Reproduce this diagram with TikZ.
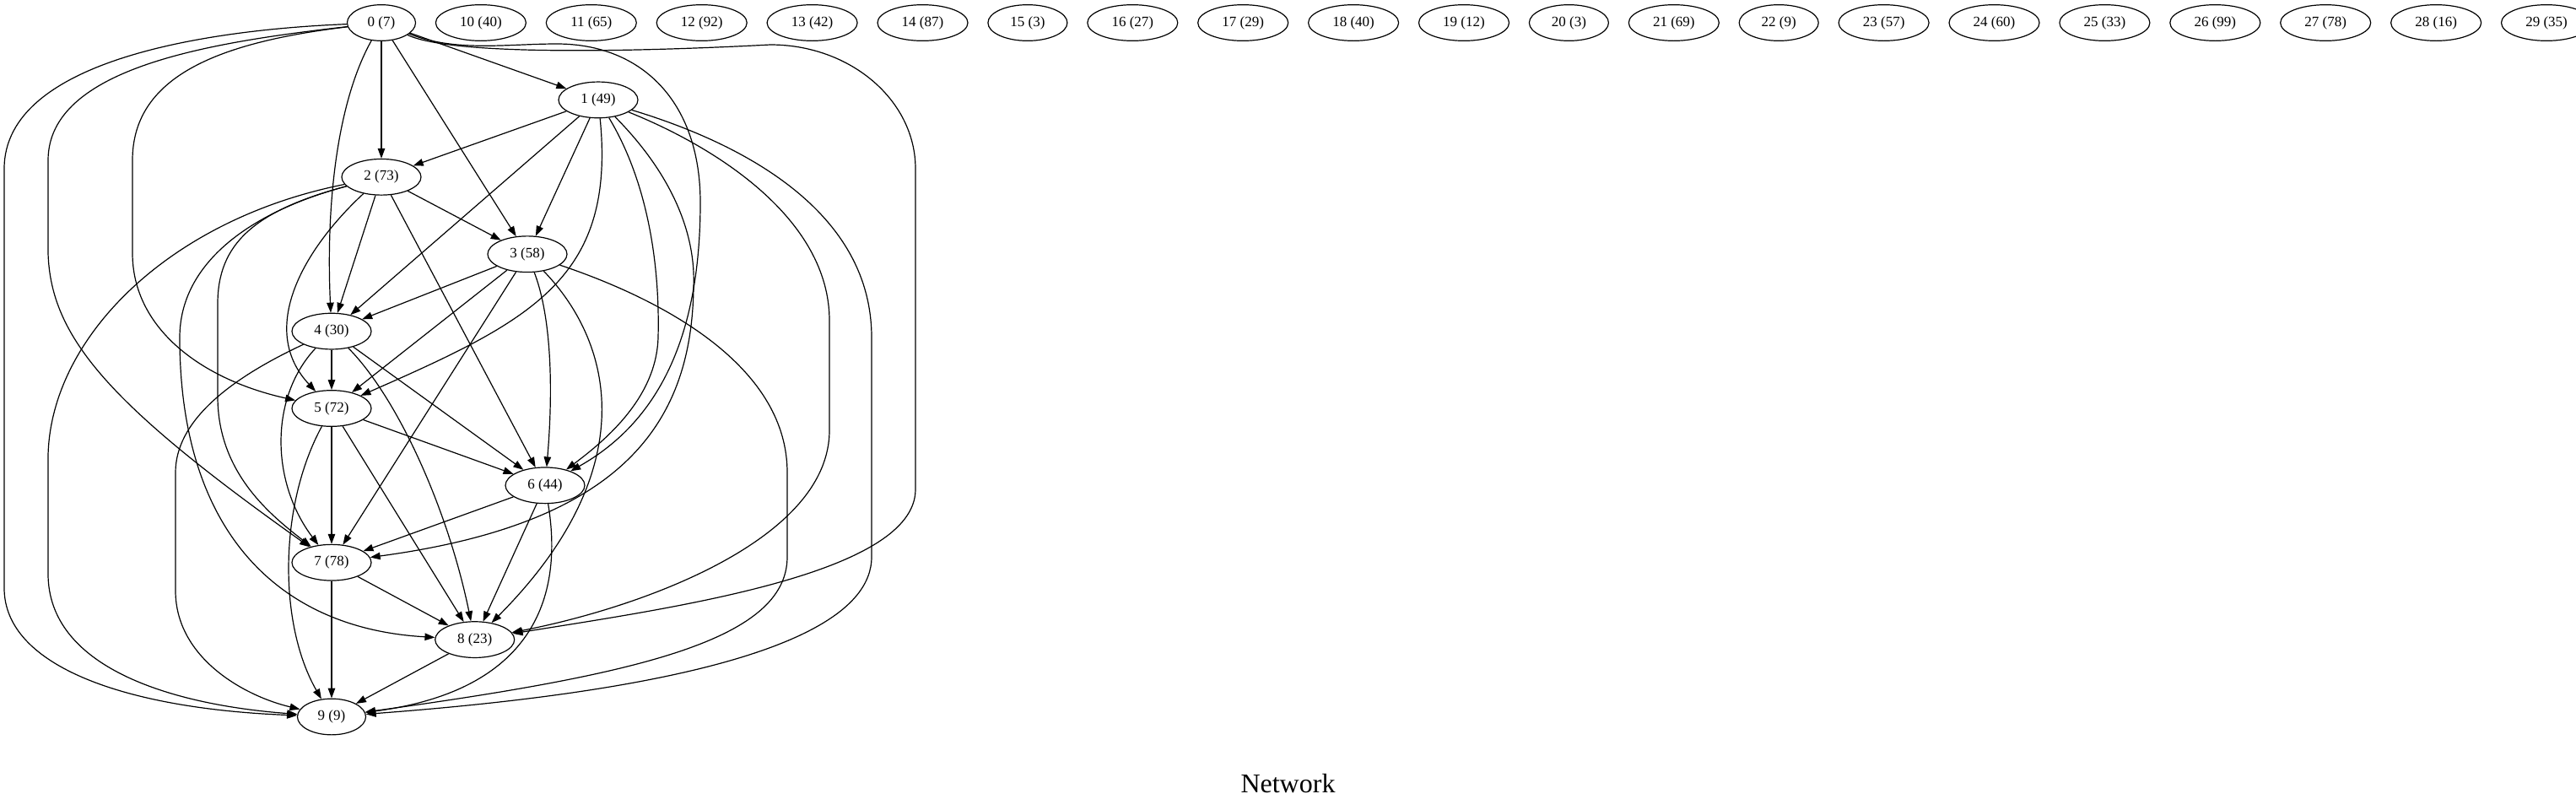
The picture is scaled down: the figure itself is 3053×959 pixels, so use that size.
\documentclass[tikz,border=0pt]{standalone}
\usepackage{fontspec}
\setmainfont{Liberation Serif}
\usetikzlibrary{arrows.meta,positioning,shapes.geometric}

\begin{document}
\begin{tikzpicture}[x=1pt, y=-1pt,
    vertex/.style={ellipse, draw, line width=1.2pt, inner sep=1pt,
      minimum height=42.7pt, minimum width=#1, font=\fontsize{17}{20}\selectfont},
    vertex/.default=94pt,
    link/.style={line width=1.2pt, -{Triangle[length=12pt, width=8.5pt]}}]
\useasboundingbox (0,0) rectangle (3053,959);

\node[vertex=81pt] (n0) at (452, 27) {0 (7)};
\node[vertex] (n1) at (709, 118.4) {1 (49)};
\node[vertex] (n2) at (452, 209.8) {2 (73)};
\node[vertex] (n3) at (625, 301.2) {3 (58)};
\node[vertex] (n4) at (393, 392.6) {4 (30)};
\node[vertex] (n5) at (393, 484) {5 (72)};
\node[vertex] (n6) at (646, 575.3) {6 (44)};
\node[vertex] (n7) at (393, 666.7) {7 (78)};
\node[vertex] (n8) at (562.7, 758.1) {8 (23)};
\node[vertex=81pt] (n9) at (393, 849.5) {9 (9)};

% the unconnected ones, in a row beside 0
\foreach \i/\v/\w [remember=\i as \prev (initially 0)] in {10/40/107pt, 11/65/107pt,
    12/92/107pt, 13/42/107pt, 14/87/107pt, 15/3/94pt, 16/27/107pt, 17/29/107pt,
    18/40/107pt, 19/12/107pt, 20/3/94pt, 21/69/107pt, 22/9/94pt, 23/57/107pt,
    24/60/107pt, 25/33/107pt, 26/99/107pt, 27/78/107pt, 28/16/107pt, 29/35/107pt}
  \node[vertex=\w, right=22.7pt of n\prev] (n\i) {\i\ (\v)};

\node[font=\fontsize{32}{38}\selectfont, anchor=base] (title) at (1526.5, 939.3) {Network};

% straight edges
\foreach \a/\b in {0/1, 0/2, 0/3, 1/2, 1/3, 1/4, 2/3, 2/4, 2/6, 3/4, 3/5, 3/7,
    4/5, 4/6, 5/6, 5/7, 5/8, 6/7, 6/8, 7/8, 7/9, 8/9}
  \draw[link] (n\a) -- (n\b);

% curved edges from 0
\draw[link] (n0) .. controls (400,120) and (386,240) .. (n4);
\draw[link] (n0) .. controls (260,50) and (157,90) .. (157,190) -- (157,300)
  .. controls (157,390) and (240,450) .. (n5);
\draw[link] (n0) .. controls (540,62) and (600,52) .. (660,52)
  .. controls (760,52) and (830,120) .. (830,240)
  .. controls (830,400) and (780,500) .. (n6);
\draw[link] (n0) .. controls (250,50) and (57,80) .. (57,190) -- (57,300)
  .. controls (60,400) and (130,480) .. (n7);
\draw[link] (n0) .. controls (540,68) and (780,60) .. (913,53)
  .. controls (1008,53) and (1085,119) .. (1085,200) -- (1085,580)
  .. controls (1085,680) and (800,720) .. (n8);
\draw[link] (n0) .. controls (250,35) and (5,70) .. (5,200) -- (5,697)
  .. controls (5,790) and (150,840) .. (n9);

% from 1
\draw[link] (n1) .. controls (730,330) and (630,380) .. (n5);
\draw[link] (n1) .. controls (770,220) and (782,320) .. (780,400)
  .. controls (778,470) and (720,520) .. (n6);
\draw[link] (n1) .. controls (790,200) and (825,270) .. (822,340)
  .. controls (820,500) and (740,620) .. (n7);
\draw[link] (n1) .. controls (850,175) and (983,260) .. (983,380) -- (983,510)
  .. controls (983,640) and (760,720) .. (n8);
\draw[link] (n1) .. controls (880,170) and (1033,250) .. (1033,400) -- (1033,660)
  .. controls (1033,790) and (650,830) .. (n9);

% from 2
\draw[link] (n2) .. controls (360,295) and (305,390) .. (n5);
\draw[link] (n2) .. controls (300,250) and (258,290) .. (258,360) -- (258,470)
  .. controls (258,560) and (320,610) .. (n7);
\draw[link] (n2) .. controls (300,250) and (213,310) .. (213,400)
  .. controls (213,630) and (330,745) .. (n8);
\draw[link] (n2) .. controls (200,260) and (60,400) .. (57,540) -- (57,680)
  .. controls (57,790) and (200,835) .. (n9);

% from 3
\draw[link] (n3) .. controls (655,380) and (655,470) .. (n6);
\draw[link] (n3) .. controls (730,410) and (760,560) .. (n8);
\draw[link] (n3) .. controls (800,360) and (933,440) .. (933,560) -- (933,660)
  .. controls (933,760) and (750,800) .. (n9);

% from 4, 5, 6
\draw[link] (n4) .. controls (320,470) and (320,570) .. (n7);
\draw[link] (n4) .. controls (470,470) and (530,600) .. (n8);
\draw[link] (n4) .. controls (270,450) and (208,500) .. (208,560) -- (208,700)
  .. controls (208,780) and (290,825) .. (n9);
\draw[link] (n5) .. controls (330,600) and (330,740) .. (n9);
\draw[link] (n6) .. controls (670,720) and (620,820) .. (n9);
\end{tikzpicture}
\end{document}
